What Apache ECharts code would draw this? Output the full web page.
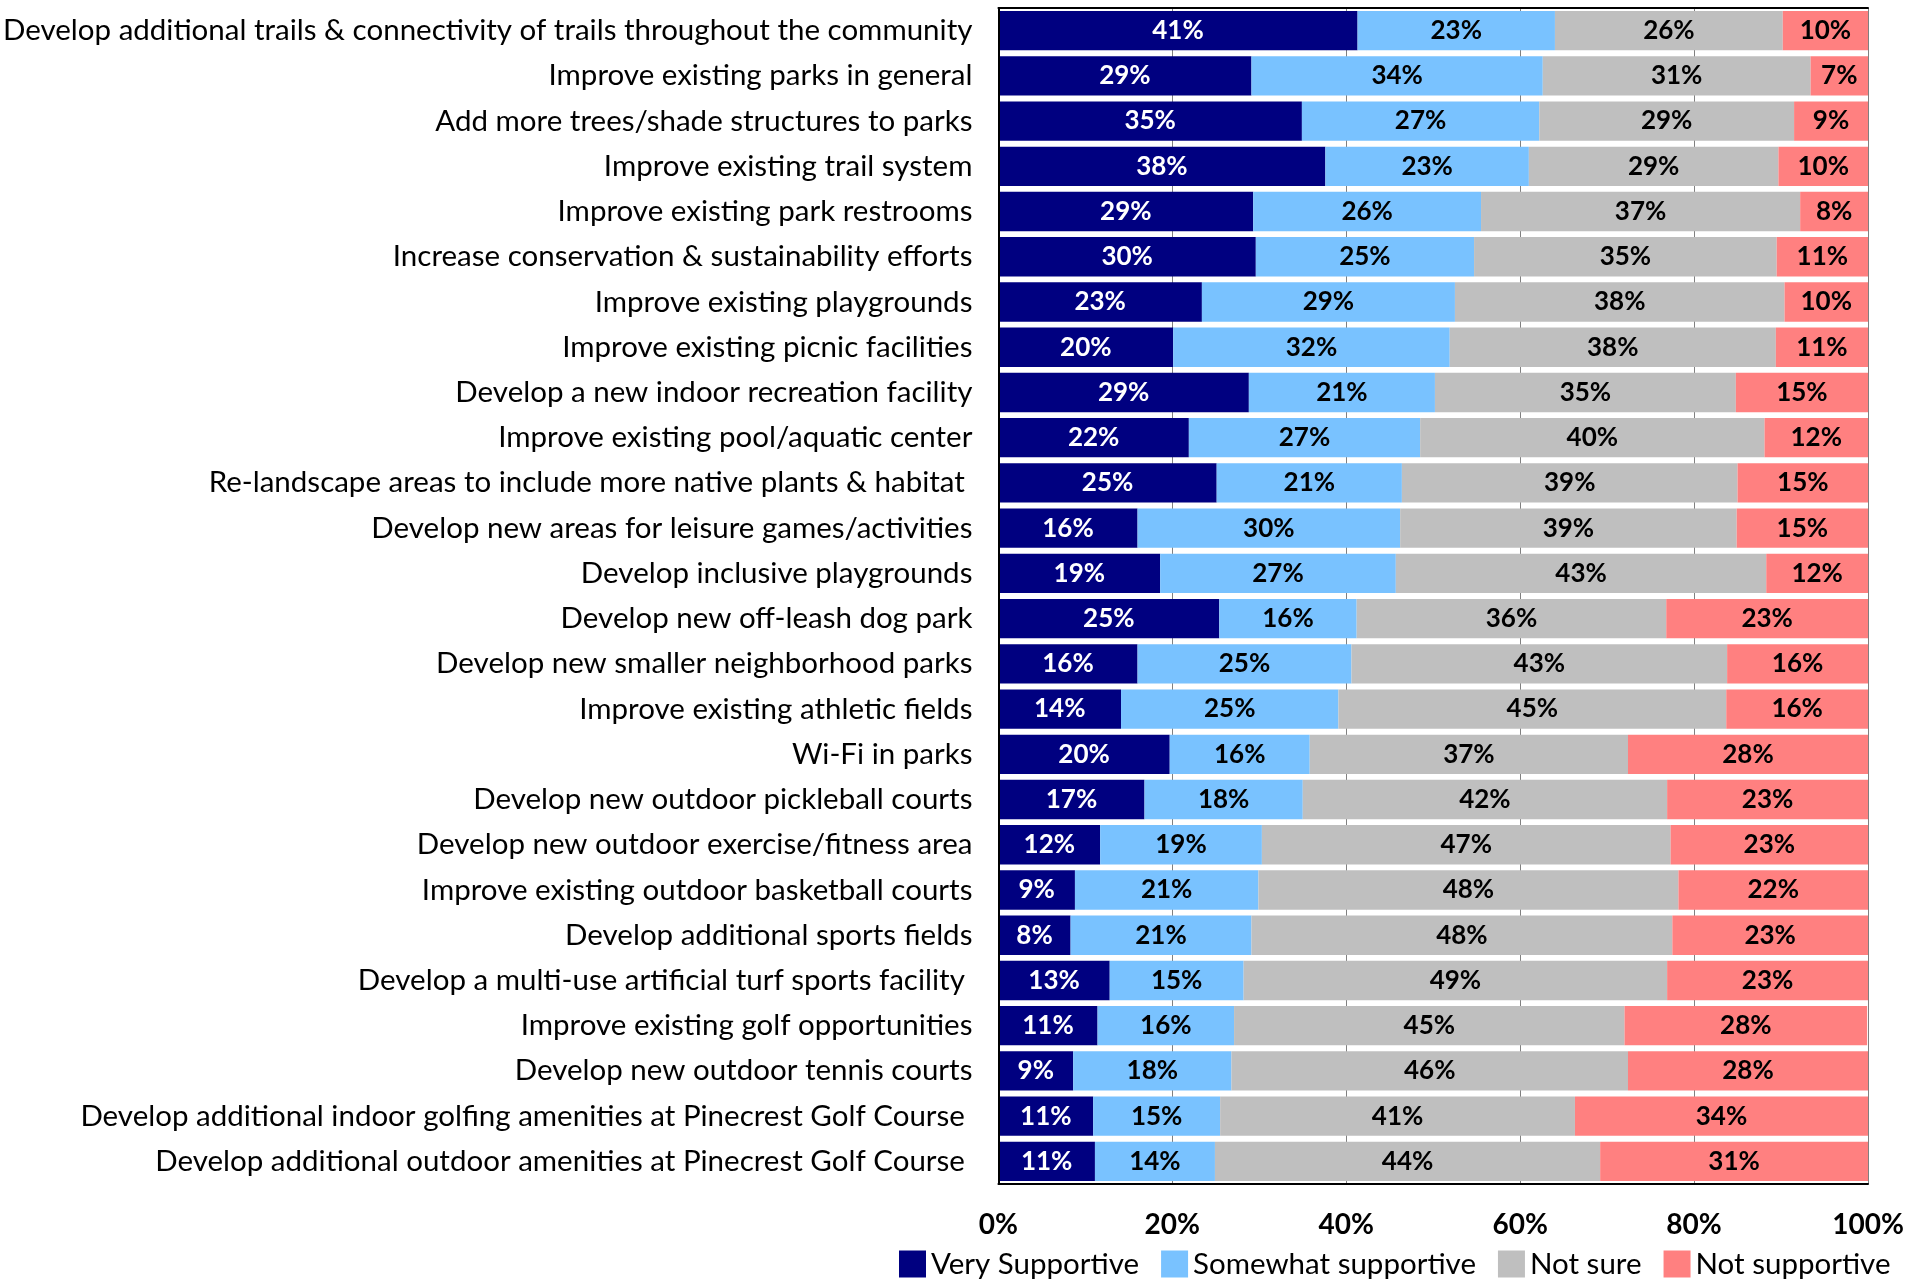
<!DOCTYPE html>
<html>
<head>
<meta charset="utf-8">
<script src="https://cdn.jsdelivr.net/npm/echarts@6/dist/echarts.min.js"></script>
<style>
  html, body { margin: 0; padding: 0; background: #fff; }
  .support { width: 1927px; height: 1280px; }
</style>
</head>
<body>
<div class="support"></div>
<script>
// categories, top to bottom
var categories = [
  "Develop additional trails & connectivity of trails throughout the community",
  "Improve existing parks in general",
  "Add more trees/shade structures to parks",
  "Improve existing trail system",
  "Improve existing park restrooms",
  "Increase conservation & sustainability efforts",
  "Improve existing playgrounds",
  "Improve existing picnic facilities",
  "Develop a new indoor recreation facility",
  "Improve existing pool/aquatic center",
  "Re-landscape areas to include more native plants & habitat ",
  "Develop new areas for leisure games/activities",
  "Develop inclusive playgrounds",
  "Develop new off-leash dog park",
  "Develop new smaller neighborhood parks",
  "Improve existing athletic fields",
  "Wi-Fi in parks",
  "Develop new outdoor pickleball courts",
  "Develop new outdoor exercise/fitness area",
  "Improve existing outdoor basketball courts",
  "Develop additional sports fields",
  "Develop a multi-use artificial turf sports facility ",
  "Improve existing golf opportunities",
  "Develop new outdoor tennis courts",
  "Develop additional indoor golfing amenities at Pinecrest Golf Course ",
  "Develop additional outdoor amenities at Pinecrest Golf Course "
];

var verySupportive = [41.3, 29.1, 34.9, 37.6, 29.3, 29.6, 23.4, 20.1, 28.8, 21.9, 25.1, 16.0, 18.6,
  25.4, 16.0, 14.1, 19.7, 16.8, 11.7, 8.8, 8.3, 12.8, 11.4, 8.6, 10.9, 11.1];
var somewhatSupportive = [22.7, 33.5, 27.3, 23.4, 26.2, 25.1, 29.1, 31.8, 21.4, 26.6, 21.3, 30.2, 27.1,
  15.8, 24.6, 25.0, 16.1, 18.2, 18.6, 21.1, 20.8, 15.4, 15.7, 18.2, 14.6, 13.8];
var notSure = [26.2, 30.8, 29.3, 28.7, 36.7, 34.8, 37.9, 37.5, 34.6, 39.6, 38.6, 38.7, 42.6,
  35.6, 43.2, 44.6, 36.6, 41.9, 47.0, 48.3, 48.4, 48.7, 44.9, 45.6, 40.8, 44.3];
var notSupportive = [9.8, 6.6, 8.6, 10.3, 7.8, 10.6, 9.6, 10.6, 15.3, 12.0, 15.0, 15.1, 11.7,
  23.2, 16.3, 16.3, 27.6, 23.1, 22.8, 21.8, 22.6, 23.1, 27.9, 27.8, 33.7, 30.8];

var seriesNames = ["Very Supportive", "Somewhat supportive", "Not sure", "Not supportive"];
var seriesColors = ["#000080", "#79C2FF", "#BFBFBF", "#FF8080"];
var labelColors = ["#fff", "#000", "#000", "#000"];
var xTicks = [0, 20, 40, 60, 80, 100];

var myChart = echarts.init(document.querySelector(".support"));
var font = "Lato";

var values = [verySupportive, somewhatSupportive, notSure, notSupportive];
var series = values.map(function (d, i) {
  return {
    name: seriesNames[i],
    type: "bar",
    stack: "total",
    data: d,
    barCategoryGap: "13%",
    itemStyle: { color: seriesColors[i] },
    label: {
      show: true,
      position: "inside",
      color: labelColors[i],
      fontFamily: font,
      fontWeight: "bold",
      fontSize: 26,
      formatter: function (p) { return Math.round(p.value) + "%"; }
    }
  };
});

option = {
  animation: false,
  grid: {
    left: 998,
    right: 59,
    top: 8,
    bottom: 96
  },
  legend: {
    data: seriesNames,
    left: 894,
    bottom: -4,
    itemWidth: 27,
    itemHeight: 27,
    itemGap: 22,
    icon: "rect",
    textStyle: { fontFamily: font, fontSize: 29.5, color: "#000", padding: [0, 0, 0, 0] }
  },
  xAxis: [
    {
      // bottom axis: ticks, labels and the grid lines behind the bars
      type: "value",
      min: 0,
      max: 100,
      interval: 20,
      axisLine: { show: true, lineStyle: { color: "#000", width: 2 } },
      axisTick: { show: false },
      splitLine: { show: true, lineStyle: { color: "#808080", width: 1 } },
      axisLabel: {
        margin: 27,
        color: "#000",
        fontFamily: font,
        fontWeight: "bold",
        fontSize: 28,
        formatter: function (v) { return xTicks.indexOf(v) > -1 ? v + "%" : ""; }
      }
    },
    {
      type: "value",
      position: "top",
      min: 0,
      max: 100,
      axisLine: { show: true, lineStyle: { color: "#000", width: 2 } },
      axisTick: { show: false },
      splitLine: { show: false },
      axisLabel: { show: false },
      z: 3
    }
  ],
  yAxis: [
    {
      type: "category",
      data: categories,
      inverse: true,
      axisLine: { show: true, lineStyle: { color: "#000", width: 2 } },
      axisTick: { show: false },
      axisLabel: {
        margin: 26,
        color: "#000",
        fontFamily: font,
        fontSize: 29.5
      },
      z: 3
    },
    {
      type: "category",
      data: categories,
      inverse: true,
      position: "right",
      axisLine: { show: true, lineStyle: { color: "#000", width: 2 } },
      axisTick: { show: false },
      axisLabel: { show: false },
      z: 3
    }
  ],
  series: series
};

myChart.setOption(option);
window.addEventListener("resize", function () {
  myChart.resize();
});
</script>
</body>
</html>
